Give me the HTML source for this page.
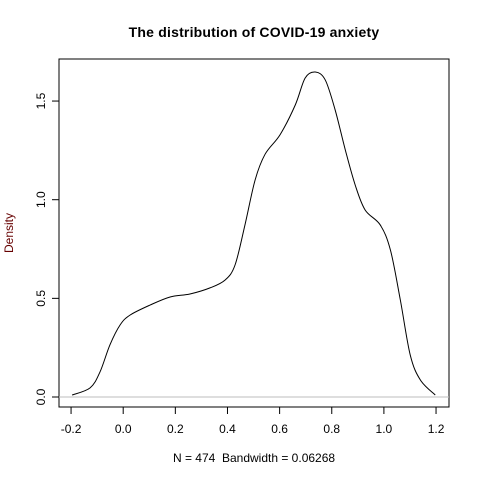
<!DOCTYPE html>
<html><head><meta charset="utf-8"><style>
body{margin:0;background:#fff}
svg text{font-family:"Liberation Sans",Arial,sans-serif;font-size:12px}
</style></head><body>
<svg width="480" height="480">
<rect width="480" height="480" fill="#fff"/>
<text x="254" y="37" text-anchor="middle" font-weight="bold" style="font-size:14px;letter-spacing:0.2px">The distribution of COVID-19 anxiety</text>
<rect x="59" y="59" width="390" height="348" fill="none" stroke="#000"/>
<g id="xaxis"></g>
<g id="yaxis"></g>
<text x="254" y="462" text-anchor="middle">N = 474 &#160;Bandwidth = 0.06268</text>
<text transform="translate(13,233) rotate(-90)" text-anchor="middle" fill="#600">Density</text>
<line id="zero" stroke="#bebebe"/>
<path id="curve" fill="none" stroke="#000" stroke-width="1"/>
</svg>
<script>
const xVals=[-0.196,-0.127,-0.089,-0.051,-0.012,0.026,0.103,0.180,0.256,0.333,0.391,0.429,0.467,0.506,0.544,0.602,0.660,0.698,0.737,0.775,0.813,0.852,0.890,0.928,0.986,1.025,1.063,1.101,1.140,1.197];
const densVals=[0.01,0.046,0.127,0.264,0.365,0.415,0.466,0.507,0.522,0.553,0.593,0.669,0.872,1.10,1.23,1.33,1.48,1.617,1.647,1.607,1.455,1.252,1.074,0.948,0.872,0.745,0.492,0.213,0.086,0.01];
const xTicks=[-0.2,0,0.2,0.4,0.6,0.8,1.0,1.2];
const xTickLabels=["-0.2","0.0","0.2","0.4","0.6","0.8","1.0","1.2"];
const yTicks=[0,0.5,1,1.5];
const yTickLabels=["0.0","0.5","1.0","1.5"];
const sx=v=>123.2+v*260.7, sy=v=>397-v*197.3;
const NS="http://www.w3.org/2000/svg";
const xa=document.getElementById('xaxis'), ya=document.getElementById('yaxis');
function mk(t,a,p){const e=document.createElementNS(NS,t);for(const k in a)e.setAttribute(k,a[k]);p.appendChild(e);return e;}
const xl=mk('line',{x1:sx(xTicks[0]),x2:sx(xTicks[xTicks.length-1]),y1:407,y2:407,stroke:'#000'},xa);


xTicks.forEach((v,i)=>{const t=mk('line',{x1:sx(v),x2:sx(v),y1:407,y2:414,stroke:'#000'},xa);


const l=mk('text',{x:sx(v),y:433,'text-anchor':'middle'},xa);l.textContent=xTickLabels[i];

});
const yl=mk('line',{x1:59,x2:59,y1:sy(yTicks[0]),y2:sy(yTicks[yTicks.length-1]),stroke:'#000'},ya);


yTicks.forEach((v,i)=>{const t=mk('line',{x1:52,x2:59,y1:sy(v),y2:sy(v),stroke:'#000'},ya);


const l=mk('text',{transform:`translate(45,${sy(v)}) rotate(-90)`,'text-anchor':'middle'},ya);l.textContent=yTickLabels[i];

});
const z=document.getElementById('zero');
z.setAttribute('x1',59);z.setAttribute('x2',449);z.setAttribute('y1',sy(0));z.setAttribute('y2',sy(0));
const P=xVals.map((x,i)=>[sx(x),sy(densVals[i])]);
let d=`M${P[0][0]},${P[0][1]}`;
for(let i=0;i<P.length-1;i++){const p0=P[Math.max(0,i-1)],p1=P[i],p2=P[i+1],p3=P[Math.min(P.length-1,i+2)];
d+=` C${p1[0]+(p2[0]-p0[0])/6},${p1[1]+(p2[1]-p0[1])/6} ${p2[0]-(p3[0]-p1[0])/6},${p2[1]-(p3[1]-p1[1])/6} ${p2[0]},${p2[1]}`;}
document.getElementById('curve').setAttribute('d',d);
</script>
</body></html>
